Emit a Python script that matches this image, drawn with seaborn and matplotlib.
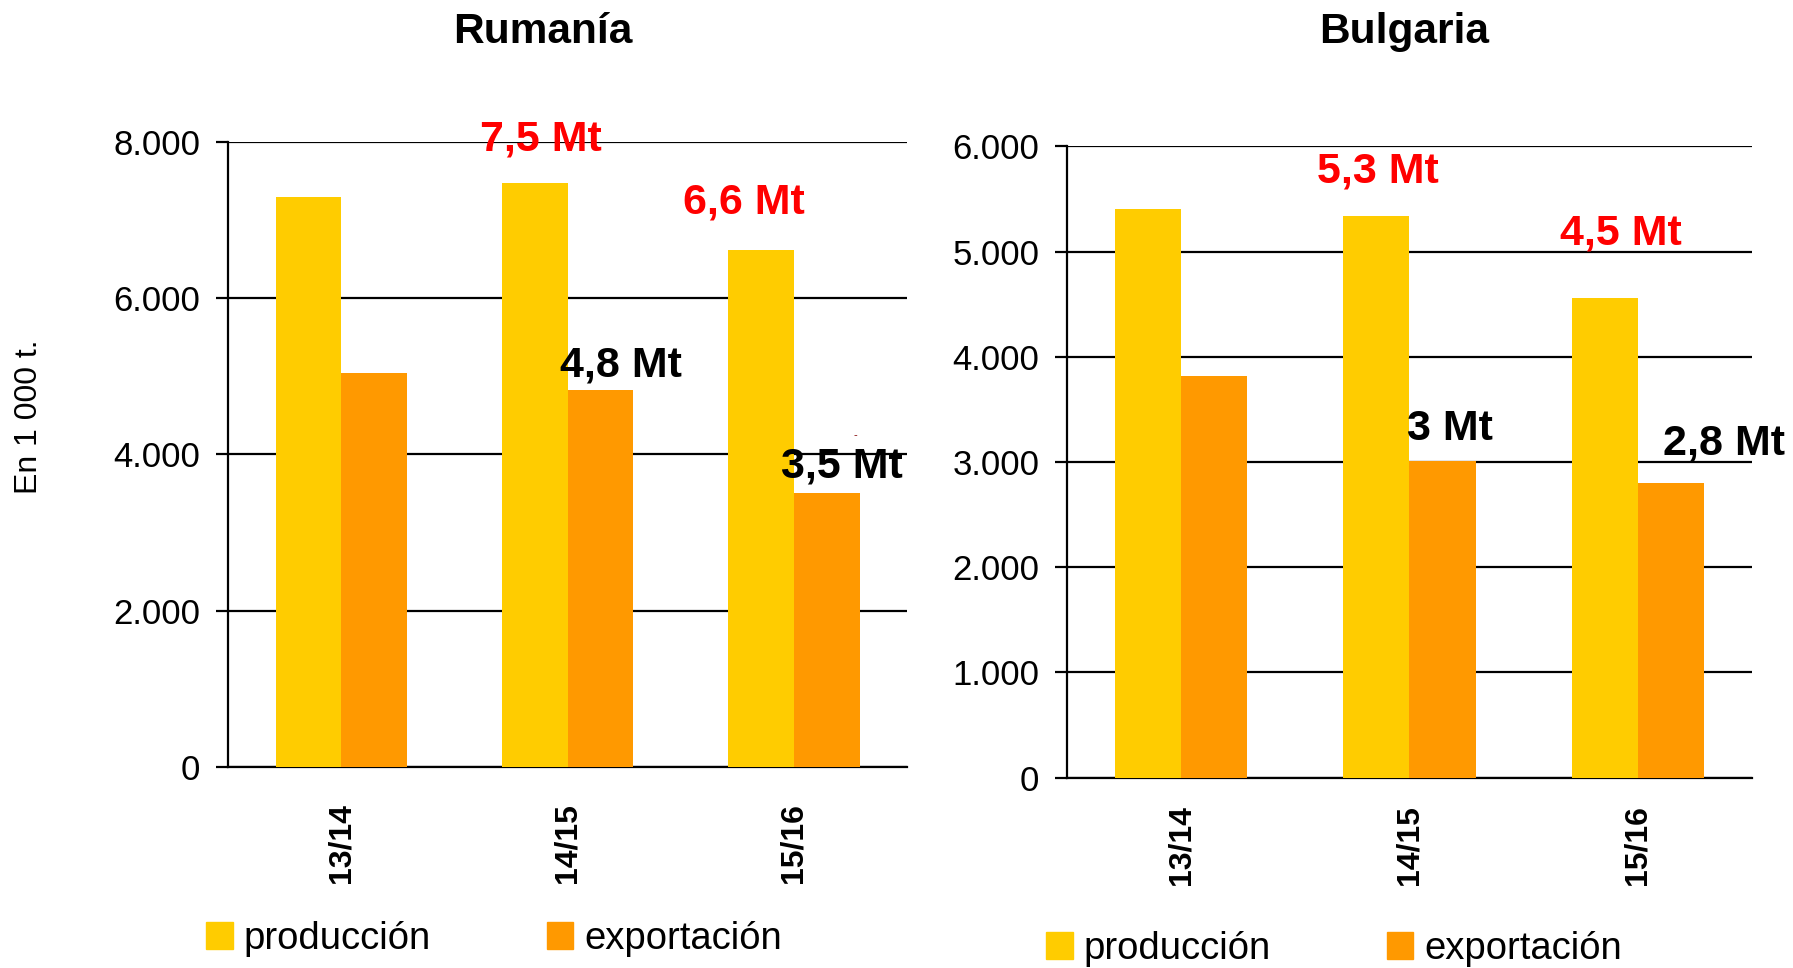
import pandas as pd
import matplotlib.pyplot as plt
import matplotlib.patches as mpatches
import seaborn as sns

# Data (in 1 000 t)
seasons = ['13/14', '14/15', '15/16']
series = ['producción', 'exportación']
rum_prod = [7300, 7480, 6620]
rum_exp = [5040, 4830, 3510]
bul_prod = [5410, 5340, 4555]
bul_exp = [3815, 3010, 2805]

rum_prod_lbl = ['7,5 Mt', '6,6 Mt']
rum_exp_lbl = ['4,8 Mt', '3,5 Mt']
bul_prod_lbl = ['5,3 Mt', '4,5 Mt']
bul_exp_lbl = ['3 Mt', '2,8 Mt']

colors = {'producción': '#FFCC00', 'exportación': '#FF9900'}

sns.set_style('white')
plt.rcParams['font.family'] = ['Liberation Sans', 'DejaVu Sans']
plt.rcParams['text.color'] = 'black'
plt.rcParams['xtick.color'] = 'black'
plt.rcParams['ytick.color'] = 'black'


def make_df(prod, exp):
    return pd.DataFrame({
        'season': seasons * 2,
        'serie': [series[0]] * 3 + [series[1]] * 3,
        'value': prod + exp,
    })


fig = plt.figure(figsize=(17.93, 9.68), dpi=100)
ax1 = fig.add_axes([0.1272, 0.2077, 0.3787, 0.6457])
ax2 = fig.add_axes([0.5951, 0.1967, 0.3820, 0.6520])

panels = [
    (ax1, make_df(rum_prod, rum_exp), 8000, 2000, 26),
    (ax2, make_df(bul_prod, bul_exp), 6000, 1000, 20),
]

for ax, df, ymax, step, xpad in panels:
    sns.barplot(data=df, x='season', y='value', hue='serie', palette=colors,
                width=0.58, saturation=1, legend=False, ax=ax, zorder=3,
                linewidth=0)
    ax.set_xlim(-0.5, 2.5)
    ax.set_ylim(0, ymax)
    ax.set_yticks(range(0, ymax + 1, step))
    ax.set_yticklabels([f'{v:,}'.replace(',', '.') for v in range(0, ymax + 1, step)],
                       fontsize=25)
    ax.set_xticks([0, 1, 2])
    ax.set_xticklabels(seasons, rotation=90, fontsize=23, fontweight='bold')
    ax.set_xticks([-0.5, 0.5, 1.5, 2.5], minor=True)
    ax.tick_params(axis='x', which='major', length=0, pad=xpad)
    ax.tick_params(axis='x', which='minor', length=9, width=1.6, color='black',
                   direction='out')
    ax.tick_params(axis='y', length=9, width=1.6, color='black', direction='out',
                   pad=11, left=True)
    ax.yaxis.grid(True, color='black', lw=1.6)
    ax.set_axisbelow(True)
    for s in ['top', 'right']:
        ax.spines[s].set_visible(False)
    for s in ['left', 'bottom']:
        ax.spines[s].set_color('black')
        ax.spines[s].set_linewidth(1.6)
    ax.set_xlabel('')
    ax.set_ylabel('')

# value annotations
lab = dict(fontsize=31, fontweight='bold', ha='center', va='center', zorder=5)
ax1.text(0.884, 8029, rum_prod_lbl[0], color='#FF0000', **lab)
ax1.text(1.778, 7225, rum_prod_lbl[1], color='#FF0000', **lab)
ax1.text(1.237, 5133, rum_exp_lbl[0], color='black', **lab)
ax1.text(2.212, 3846, rum_exp_lbl[1], color='black', **lab)
ax1.text(2.273, 4250, '-', color='#800000', fontsize=8, ha='center', va='center')

ax2.text(0.862, 5761, bul_prod_lbl[0], color='#FF0000', **lab)
ax2.text(1.924, 5174, bul_prod_lbl[1], color='#FF0000', **lab)
ax2.text(1.178, 3315, bul_exp_lbl[0], color='black', **lab)
ax2.text(2.379, 3174, bul_exp_lbl[1], color='black', **lab)

# titles and y label
fig.text(543 / 1793, 1 - 32 / 968, 'Rumanía', fontsize=30.5, fontweight='bold',
         ha='center', va='center')
fig.text(1404 / 1793, 1 - 32 / 968, 'Bulgaria', fontsize=30.5, fontweight='bold',
         ha='center', va='center')
fig.text(29 / 1793, 1 - 417 / 968, 'En 1 000 t.', fontsize=23, rotation=90,
         ha='center', va='center')

# legends
handles = [mpatches.Patch(color=colors[s], label=s) for s in series]
for x, y in [(0.115, 1 - 939 / 968), (0.5835, 1 - 949 / 968)]:
    fig.legend(handles=handles, loc='center left', bbox_to_anchor=(x, y),
               ncol=2, frameon=False, fontsize=27.5, handlelength=0.69,
               handleheight=0.73, handletextpad=0.28, columnspacing=3.05,
               borderpad=0, borderaxespad=0)

plt.savefig('out.png', dpi=100)
plt.close()
